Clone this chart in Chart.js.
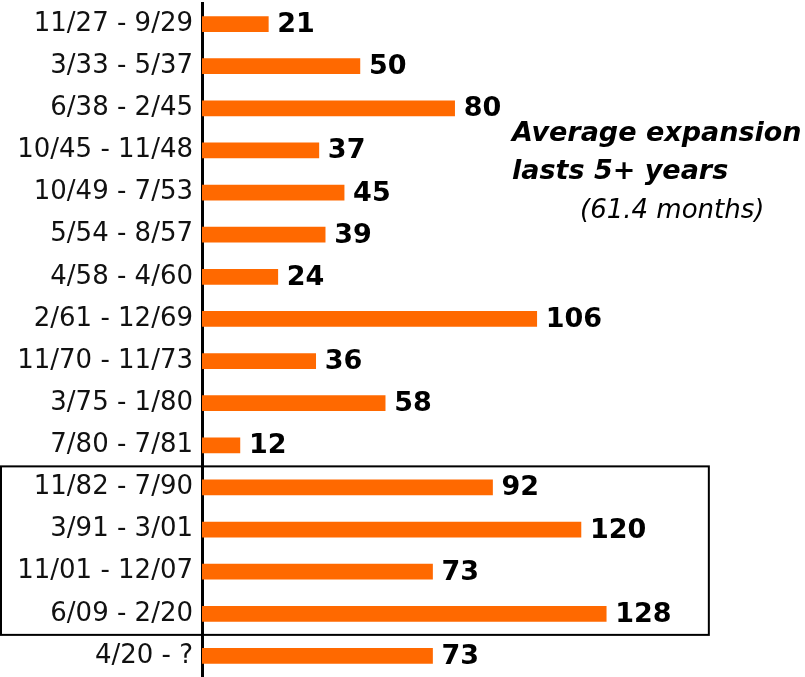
<!DOCTYPE html>
<html>
<head>
<meta charset="utf-8">
<script src="https://cdn.jsdelivr.net/npm/chart.js@4"></script>
<style>
  html, body { margin: 0; padding: 0; background: #fff; }
  #wrap { width: 805px; height: 677px; position: relative; }
</style>
</head>
<body>
<div id="wrap"><canvas id="chart"></canvas></div>
<script>
const periods = ['11/27 - 9/29', '3/33 - 5/37', '6/38 - 2/45', '10/45 - 11/48', '10/49 - 7/53',
    '5/54 - 8/57', '4/58 - 4/60', '2/61 - 12/69', '11/70 - 11/73', '3/75 - 1/80', '7/80 - 7/81',
    '11/82 - 7/90', '3/91 - 3/01', '11/01 - 12/07', '6/09 - 2/20', '4/20 - ?'];
const months = [21, 50, 80, 37, 45, 39, 24, 106, 36, 58, 12, 92, 120, 73, 128, 73];
const boxedFrom = 11;
const boxedTo = 14;
const noteLines = ['Average expansion', 'lasts 5+ years', '(61.4 months)'];

const barColor = '#ff6900';

// value labels at the end of each bar
const valueLabels = {
    id: 'valueLabels',
    afterDatasetsDraw(chart) {
        const ctx = chart.ctx;
        const meta = chart.getDatasetMeta(0);
        ctx.save();
        ctx.font = 'bold 27px "DejaVu Sans"';
        ctx.fillStyle = '#000';
        ctx.textBaseline = 'middle';
        meta.data.forEach((bar, i) => {
            ctx.fillText(months[i], bar.x + 9, bar.y + 1);
        });
        ctx.restore();
    }
};

// box around the recent expansions + note text
const extras = {
    id: 'extras',
    afterDraw(chart) {
        const ctx = chart.ctx;
        const y = chart.scales.y;
        const x = chart.scales.x;
        const top = (y.getPixelForValue(boxedFrom - 1) + y.getPixelForValue(boxedFrom)) / 2;
        const bottom = (y.getPixelForValue(boxedTo) + y.getPixelForValue(boxedTo + 1)) / 2;
        ctx.save();
        ctx.strokeStyle = '#000';
        ctx.lineWidth = 2;
        ctx.strokeRect(1, top, x.getPixelForValue(160.5) - 1, bottom - top);

        ctx.fillStyle = '#000';
        ctx.textBaseline = 'alphabetic';
        ctx.font = 'italic bold 27px "DejaVu Sans"';
        ctx.fillText(noteLines[0], 512, 141);
        ctx.fillText(noteLines[1], 512, 179);
        ctx.font = 'italic 26px "DejaVu Sans"';
        ctx.fillText(noteLines[2], 580, 218);
        ctx.restore();
    }
};

new Chart(document.getElementById('chart'), {
    type: 'bar',
    data: {
        labels: periods,
        datasets: [{
            data: months,
            backgroundColor: barColor,
            barThickness: 15
        }]
    },
    options: {
        indexAxis: 'y',
        responsive: true,
        maintainAspectRatio: false,
        animation: false,
        layout: { padding: { top: 3, right: 3, bottom: 0, left: 0 } },
        plugins: {
            legend: { display: false },
            tooltip: { enabled: false }
        },
        scales: {
            x: {
                display: false,
                min: 0,
                max: 190
            },
            y: {
                afterFit(scale) {
                    scale.width = 202;
                    scale.paddingTop = 0;
                    scale.paddingBottom = 0;
                },
                grid: { display: false, drawTicks: false },
                border: { display: true, color: '#000', width: 3 },
                ticks: {
                    color: '#111',
                    padding: 9,
                    autoSkip: false,
                    font: { family: '"DejaVu Sans"', size: 26 }
                }
            }
        }
    },
    plugins: [valueLabels, extras]
});
</script>
</body>
</html>
